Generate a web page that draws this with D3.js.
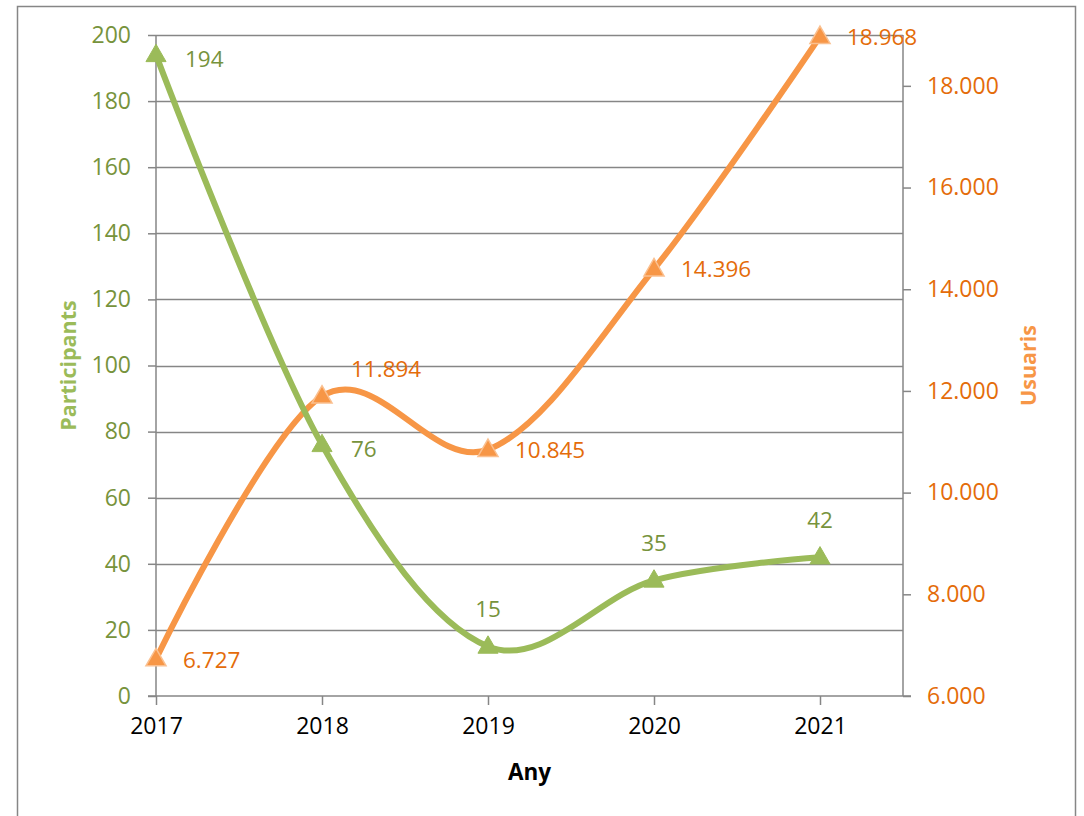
<!DOCTYPE html>
<html><head><meta charset="utf-8">
<script src="https://cdn.jsdelivr.net/npm/d3@7"></script>
<style>body{margin:0;background:#fff;} text{font-family:"Open Sans",sans-serif;}</style>
</head><body>
<svg id="c" width="1084" height="816"></svg>
<script>
const years = ["2017","2018","2019","2020","2021"];
const participants = [194, 76, 15, 35, 42];
const usuaris = [6727, 11894, 10845, 14396, 18968];
const leftTicks = [0,20,40,60,80,100,120,140,160,180,200];
const rightTicks = [6000,8000,10000,12000,14000,16000,18000];

const svg = d3.select("#c");
const L = 156, R = 903, T = 35, B = 696;
const x = d3.scalePoint().domain(years).range([L, 820]);
const yL = d3.scaleLinear().domain([0,200]).range([B,T]);
const yR = d3.scaleLinear().domain([6000,19000]).range([B,T]);
const fmt = d3.formatLocale({decimal:",",thousands:".",grouping:[3],currency:["",""]}).format(",d");

svg.append("rect").attr("x",17.5).attr("y",6.5).attr("width",1058).attr("height",830)
  .attr("fill","#fff").attr("stroke","#868686").attr("stroke-width",1.5);

// gridlines
svg.append("g").selectAll("line").data(leftTicks.filter(d=>d>0)).join("line")
  .attr("x1",L).attr("x2",R).attr("y1",d=>Math.round(yL(d))+0.5).attr("y2",d=>Math.round(yL(d))+0.5)
  .attr("stroke","#868686").attr("stroke-width",1.5);

// left axis
const gl = svg.append("g").attr("transform",`translate(${L},0)`)
  .call(d3.axisLeft(yL).tickValues(leftTicks).tickSize(8).tickPadding(17));
gl.select(".domain").attr("stroke","#868686").attr("stroke-width",1.5).attr("d",`M0,${T}V${B}`);
gl.selectAll(".tick line").attr("stroke","#868686").attr("stroke-width",1.5);
gl.selectAll(".tick text").attr("fill","#77933C").style("font-size","23px").style("font-family","Open Sans");

// right axis
const gr = svg.append("g").attr("transform",`translate(${R},0)`)
  .call(d3.axisRight(yR).tickValues(rightTicks).tickFormat(fmt).tickSize(8).tickPadding(16));
gr.select(".domain").attr("stroke","#868686").attr("stroke-width",1.5).attr("d",`M0,${T}V${B}`);
gr.selectAll(".tick line").attr("stroke","#868686").attr("stroke-width",1.5);
gr.selectAll(".tick text").attr("fill","#E46C0A").style("font-size","23px").style("font-family","Open Sans");

// x axis
const gx = svg.append("g").attr("transform",`translate(0,${B})`)
  .call(d3.axisBottom(x).tickSize(9).tickPadding(13));
gx.select(".domain").attr("stroke","#868686").attr("stroke-width",1.5).attr("d",`M${L-8},0H${R+8}`);
gx.selectAll(".tick line").attr("stroke","#868686").attr("stroke-width",1.5);
gx.selectAll(".tick text").attr("fill","#000").style("font-size","23px").style("font-family","Open Sans");

// titles
svg.append("text").attr("x",(L+R)/2).attr("y",780).attr("text-anchor","middle")
  .style("font-size","22.5px").style("font-weight","bold").attr("fill","#000").text("Any");
svg.append("text").attr("transform",`translate(76,${(T+B)/2}) rotate(-90)`).attr("text-anchor","middle")
  .style("font-size","21.5px").style("font-weight","bold").attr("fill","#9BBB59").text("Participants");
svg.append("text").attr("transform",`translate(1036,${(T+B)/2}) rotate(-90)`).attr("text-anchor","middle")
  .style("font-size","21.5px").style("font-weight","bold").attr("fill","#F79646").text("Usuaris");

const tri = d3.symbol().type(d3.symbolTriangle).size(175);

// orange line
const lineR = d3.line().x((d,i)=>x(years[i])).y(d=>yR(d)).curve(d3.curveCardinal.tension(0));
svg.append("path").datum(usuaris).attr("d",lineR).attr("fill","none")
  .attr("stroke","#F79646").attr("stroke-width",6).attr("stroke-linecap","round");
// green line
const lineL = d3.line().x((d,i)=>x(years[i])).y(d=>yL(d)).curve(d3.curveCardinal.tension(0));
svg.append("path").datum(participants).attr("d",lineL).attr("fill","none")
  .attr("stroke","#9BBB59").attr("stroke-width",6).attr("stroke-linecap","round");

svg.append("g").selectAll("path").data(usuaris).join("path")
  .attr("transform",(d,i)=>`translate(${x(years[i])},${yR(d)+1})`).attr("d",tri)
  .attr("fill","#F79646").attr("stroke","#FAC090").attr("stroke-width",1.5);
svg.append("g").selectAll("path").data(participants).join("path")
  .attr("transform",(d,i)=>`translate(${x(years[i])},${yL(d)+1})`).attr("d",tri)
  .attr("fill","#9BBB59").attr("stroke","#9BBB59").attr("stroke-width",1);

// labels
const gPos = ["right","right","above","above","above"];
svg.append("g").selectAll("text").data(participants).join("text")
  .attr("x",(d,i)=>gPos[i]==="right"? x(years[i])+29 : x(years[i]))
  .attr("y",(d,i)=>gPos[i]==="right"? yL(d)+12 : yL(d)-29)
  .attr("text-anchor",(d,i)=>gPos[i]==="right"?"start":"middle")
  .attr("fill","#77933C").style("font-size","22.5px").text(d=>d);
const oDx = [27, 29, 27, 27, 27], oDy = [9, -19, 8, 8, 8];
svg.append("g").selectAll("text").data(usuaris).join("text")
  .attr("x",(d,i)=>x(years[i])+oDx[i]).attr("y",(d,i)=>yR(d)+oDy[i])
  .attr("fill","#E46C0A").style("font-size","22.5px").text(d=>fmt(d));
</script>
</body></html>
